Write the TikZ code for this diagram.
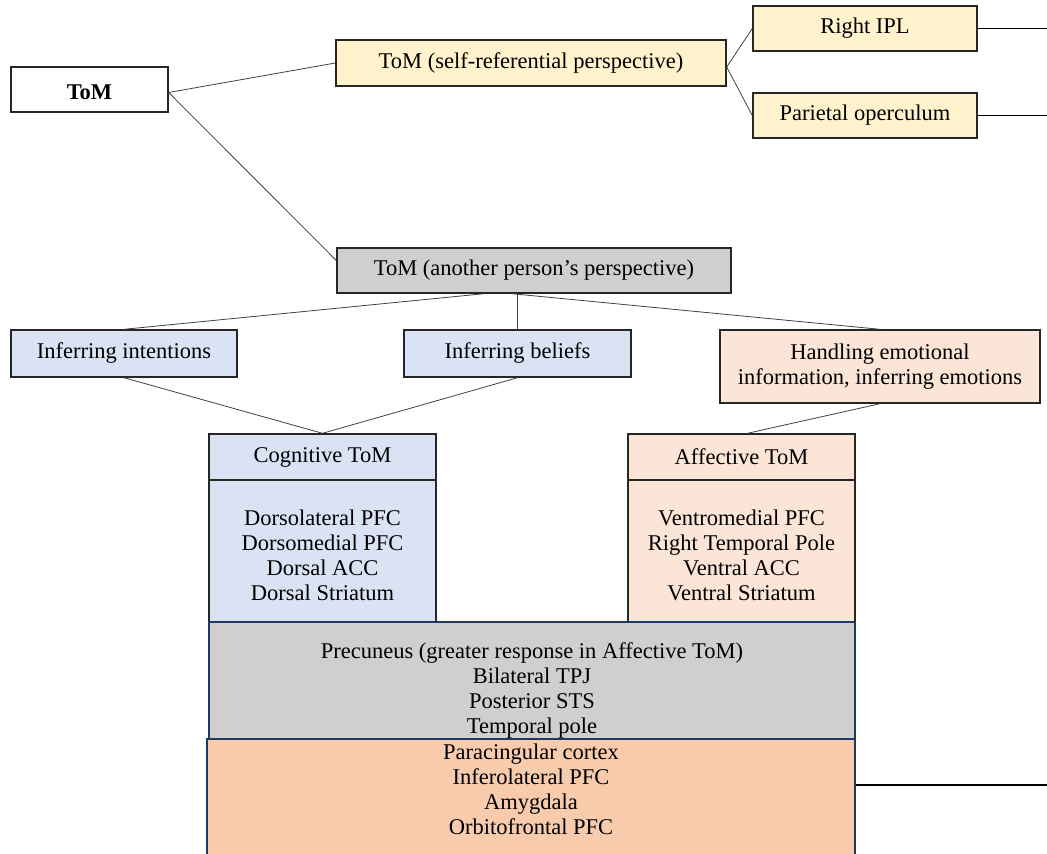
\documentclass[tikz,border=0pt]{standalone}
\usepackage{fontspec}
\setmainfont{Liberation Serif}
\usetikzlibrary{calc}
\definecolor{selfyellow}{RGB}{255,242,204}
\definecolor{othergray}{RGB}{208,206,206}
\definecolor{cogblue}{RGB}{218,227,243}
\definecolor{affpeach}{RGB}{251,229,214}
\definecolor{deeporange}{RGB}{248,203,173}
\definecolor{navyline}{RGB}{31,56,100}
\definecolor{linkgray}{RGB}{64,64,64}
\begin{document}
\begin{tikzpicture}[x=1pt,y=-1pt,
  every node/.style={font=\fontsize{22.5}{25}\selectfont},
  boxbase/.style={draw=black!85, line width=1.4pt, inner sep=0pt, align=center},
  whitebox/.style={boxbase, fill=white},
  selfbox/.style={boxbase, fill=selfyellow},
  graybox/.style={boxbase, fill=othergray},
  bluebox/.style={boxbase, fill=cogblue},
  peachbox/.style={boxbase, fill=affpeach},
  sharedbox/.style={boxbase, draw=navyline, fill=othergray},
  emobox/.style={boxbase, draw=navyline, fill=deeporange},
  plaintext/.style={inner sep=0pt, align=center},
  link/.style={draw=linkgray, line width=0.8pt},
  outlink/.style={draw=black, line width=1.3pt}]
\useasboundingbox (0,0) rectangle (1047,854);

% top branch: ToM and self-referential perspective
\node[whitebox, minimum width=157, minimum height=45] (tom) at (89.5,89.5) {};
\node[plaintext] (tomtext) at (89.5,92) {\bfseries ToM};
\node[selfbox, minimum width=390, minimum height=46] (self) at (531,63) {ToM (self-referential perspective)};
\node[selfbox, minimum width=224, minimum height=45] (ipl) at (865,28.5) {Right IPL};
\node[selfbox, minimum width=224, minimum height=45] (par) at (865,115.5) {Parietal operculum};
\coordinate (iplend) at (1047,28.5);
\coordinate (parend) at (1047,115.5);

% another person's perspective
\node[graybox, minimum width=394, minimum height=45] (other) at (534,270.5) {ToM (another person’s perspective)};
\node[bluebox, minimum width=226, minimum height=47] (intent) at (124,353.5) {Inferring intentions};
\node[bluebox, minimum width=227, minimum height=47] (belief) at (517.5,353.5) {Inferring beliefs};
\node[peachbox, minimum width=320, minimum height=73] (handle) at (880,366.5) {Handling emotional\\information, inferring emotions};

% cognitive and affective columns
\node[bluebox, minimum width=227, minimum height=46] (cog) at (322.5,457) {Cognitive ToM};
\node[bluebox, minimum width=227, minimum height=142] (cogbody) at (322.5,551) {};
\node[plaintext] (cogtext) at (322.5,555)
  {Dorsolateral PFC\\Dorsomedial PFC\\Dorsal ACC\\Dorsal Striatum};
\node[peachbox, minimum width=227, minimum height=46] (aff) at (741.5,457) {Affective ToM};
\node[peachbox, minimum width=227, minimum height=142] (affbody) at (741.5,551) {};
\node[plaintext] (afftext) at (741.5,555)
  {Ventromedial PFC\\Right Temporal Pole\\Ventral ACC\\Ventral Striatum};

% shared regions
\node[sharedbox, minimum width=646, minimum height=117] (shared) at (532,680.5) {};
\node[plaintext] (sharedtext) at (532,690)
  {Precuneus (greater response in Affective ToM)\\Bilateral TPJ\\Posterior STS\\Temporal pole};
\node[emobox, minimum width=648, minimum height=130] (emo) at (531,804) {};
\node[plaintext] (emotext) at (531,789.5)
  {Paracingular cortex\\Inferolateral PFC\\Amygdala\\Orbitofrontal PFC};
\coordinate (emoend) at (1047,785);

% connectors
\draw[link] ([yshift=-3pt]tom.east) -- (self.west);
\draw[link] ([yshift=-3pt]tom.east) -- ([yshift=10pt]other.west);
\draw[link] ([yshift=-4pt]self.east) -- (ipl.west);
\draw[link] ([yshift=-4pt]self.east) -- (par.west);
\draw[outlink] (ipl.east) -- (iplend);
\draw[outlink] (par.east) -- (parend);
\draw[link] ([xshift=-50pt]other.south) -- (intent.north);
\draw[link] (other.south -| belief.north) -- (belief.north);
\draw[link] ([xshift=-22pt]other.south) -- (handle.north);
\draw[link] (intent.south) -- (cog.north);
\draw[link] (belief.south) -- (cog.north);
\draw[link] (handle.south) -- ([xshift=6pt]aff.north);
\draw[outlink] (emo.east |- emoend) -- (emoend);
\end{tikzpicture}
\end{document}
